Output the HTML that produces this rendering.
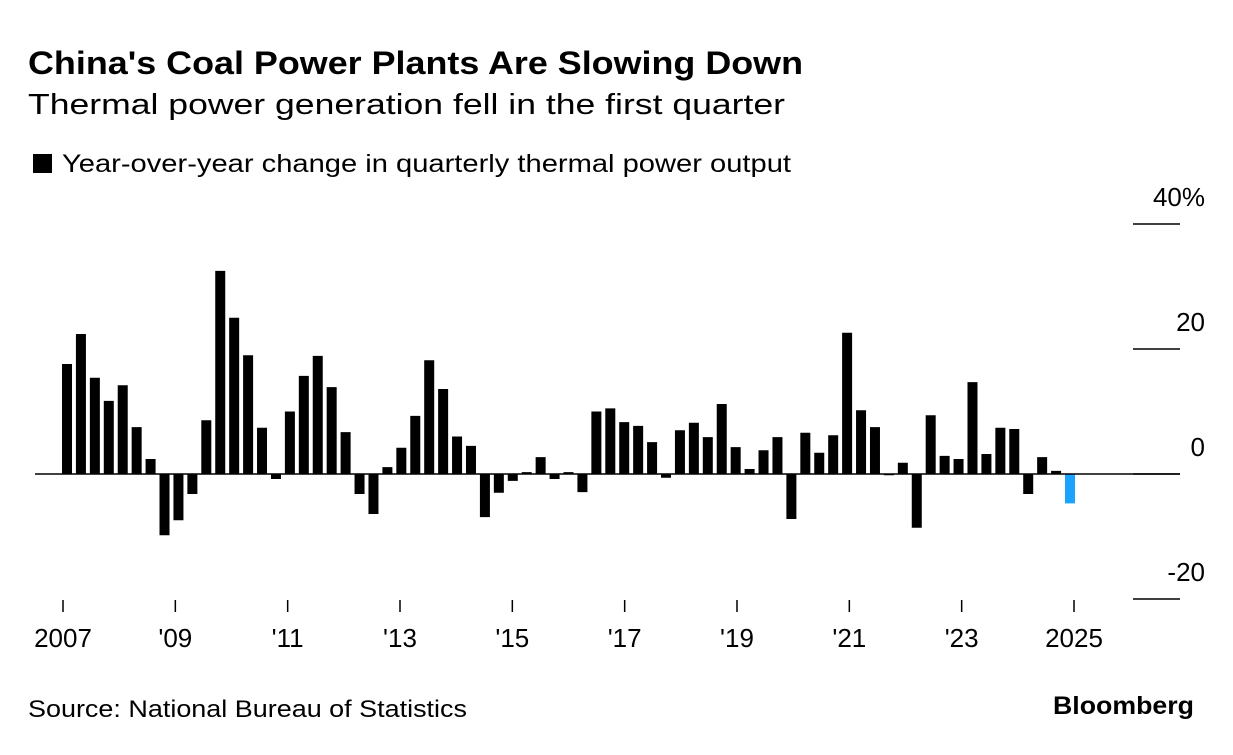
<!DOCTYPE html>
<html><head><meta charset="utf-8"><style>
body{margin:0;background:#fff;font-family:"Liberation Sans",sans-serif;}
svg text{font-family:"Liberation Sans",sans-serif;}
</style></head><body>
<svg width="1233" height="750" xmlns="http://www.w3.org/2000/svg">
<text x="28" y="74" font-size="32" font-weight="bold" fill="#000" textLength="775" lengthAdjust="spacingAndGlyphs">China's Coal Power Plants Are Slowing Down</text>
<text x="28" y="114" font-size="29" fill="#000" textLength="757" lengthAdjust="spacingAndGlyphs">Thermal power generation fell in the first quarter</text>
<rect x="33" y="154" width="19" height="19" fill="#000"/>
<text x="62" y="172" font-size="25" fill="#000" textLength="729" lengthAdjust="spacingAndGlyphs">Year-over-year change in quarterly thermal power output</text>
<g id="grid"></g>
<g id="bars"></g>
<g id="xaxis"></g>
<text x="28" y="717" font-size="24" fill="#000" textLength="439" lengthAdjust="spacingAndGlyphs">Source: National Bureau of Statistics</text>
<text x="1053" y="714" font-size="25" font-weight="bold" fill="#000" textLength="141" lengthAdjust="spacingAndGlyphs">Bloomberg</text>
</svg>
<script>
const values = [17.6,22.4,15.4,11.7, 14.2,7.5,2.4,-9.8, -7.4,-3.2,8.6,32.5, 25,19,7.4,-0.8,
 10,15.7,18.9,13.9, 6.7,-3.2,-6.4,1.1, 4.2,9.3,18.2,13.6, 6,4.5,-6.9,-3,
 -1.1,0.3,2.7,-0.8, 0.3,-2.9,10,10.5, 8.3,7.7,5.1,-0.6, 7,8.2,5.9,11.2,
 4.3,0.8,3.8,5.9, -7.2,6.6,3.4,6.2, 22.6,10.2,7.5,-0.2, 1.8,-8.6,9.4,2.9,
 2.4,14.7,3.2,7.4, 7.2,-3.2,2.7,0.5, -4.7];
const startYear = 2007;
const yTicks = [40,20,0,-20];
const yTickLabels = ["40%","20","0","-20"];
const xTickYears = [2007,2009,2011,2013,2015,2017,2019,2021,2023,2025];
const xTickLabels = ["2007","'09","'11","'13","'15","'17","'19","'21","'23","2025"];
const NS="http://www.w3.org/2000/svg";
const x0=62, xLast=1065, n=values.length, bw=(xLast-x0)/(n-1);
const y=v=>474-v*6.25;
const xYear=yr=>63+(yr-startYear)*(1074-63)/18;
function mk(t,a,p){const e=document.createElementNS(NS,t);for(const k in a)e.setAttribute(k,a[k]);p.appendChild(e);return e;}
const grid=document.getElementById('grid');
yTicks.forEach((t,i)=>{
  const l=mk('line',{x1:1133,x2:1180,y1:y(t),y2:y(t),stroke:'#000','stroke-width':1.5},grid);
  
  
  const tx=mk('text',{x:1205,y:y(t)-18,'font-size':26,'text-anchor':'end',fill:'#000'},grid);
  tx.textContent=yTickLabels[i];
  
  
});
const bars=document.getElementById('bars');
values.forEach((v,i)=>{
  const r=mk('rect',{x:x0+i*bw,width:10,y:Math.min(y(v),y(0)),height:Math.abs(y(v)-y(0)),fill:i===n-1?'#1aa3ff':'#000'},bars);
  
  
});
const zl=mk('line',{x1:35,x2:1180,y1:y(0),y2:y(0),stroke:'#000','stroke-width':1.5},bars);


const xa=document.getElementById('xaxis');
xTickYears.forEach((yr,i)=>{
  const xx=xYear(yr);
  const l=mk('line',{x1:xx,x2:xx,y1:600,y2:612,stroke:'#000','stroke-width':1.5},xa);
  
  
  const tx=mk('text',{x:xx,y:647,'font-size':26,'text-anchor':'middle',fill:'#000'},xa);
  tx.textContent=xTickLabels[i];
  
  
});
</script>
</body></html>
